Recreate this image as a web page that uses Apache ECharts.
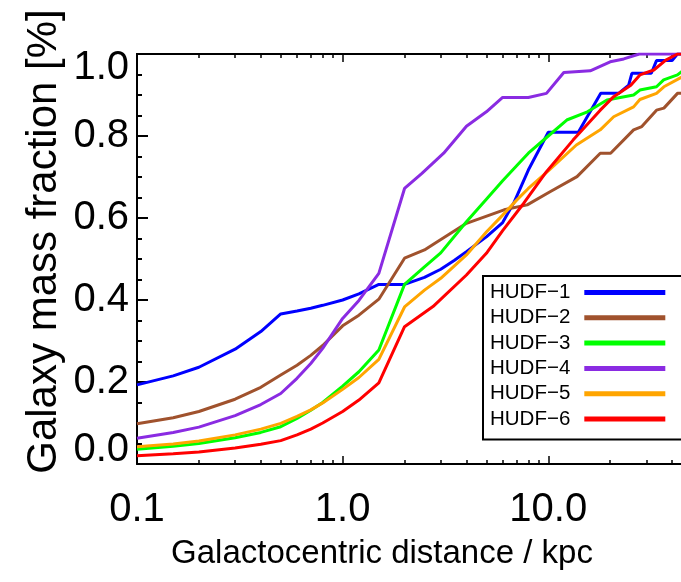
<!DOCTYPE html>
<html><head><meta charset="utf-8">
<script src="https://cdn.jsdelivr.net/npm/echarts@6/dist/echarts.min.js"></script>
<style>html,body{margin:0;padding:0;background:#fff}#chart{width:681px;height:582px}</style>
</head><body><div id="chart"></div>
<script>
// ---- data ----
const seriesNames = ['HUDF\u22121','HUDF\u22122','HUDF\u22123','HUDF\u22124','HUDF\u22125','HUDF\u22126'];
const seriesColors = ['#0000ff','#a0522d','#00ff00','#8a2be2','#ffa500','#ff0000'];

const r1 = [0.1,0.15,0.2,0.3,0.4,0.5,0.6,0.7,0.8,1.0,1.2,1.5,2.0,2.5,3.0,3.5,4.0,5.0,6.0,6.8,8.0,10,14,18,22,24.6,25.5,31.7,33.6,40,42.5,45];
const f1 = [0.193,0.215,0.236,0.280,0.323,0.366,0.373,0.380,0.387,0.400,0.415,0.438,0.438,0.455,0.475,0.497,0.518,0.554,0.589,0.637,0.717,0.809,0.809,0.904,0.904,0.924,0.953,0.953,0.984,0.984,1.0,1.0];

const r2 = [0.1,0.15,0.2,0.3,0.4,0.5,0.6,0.7,0.8,1.0,1.2,1.5,2.0,2.5,2.8,4.0,6.1,7.9,10.2,13.8,17.9,20.1,26,28.5,33.6,36.5,42.5,45];
const f2 = [0.098,0.113,0.128,0.158,0.187,0.217,0.241,0.265,0.289,0.337,0.363,0.402,0.502,0.522,0.538,0.587,0.620,0.632,0.664,0.701,0.758,0.758,0.815,0.823,0.863,0.868,0.904,0.904];

const r3 = [0.1,0.15,0.2,0.3,0.4,0.5,0.6,0.7,0.8,1.0,1.2,1.5,2.0,2.5,3.0,4.0,5.0,6.0,7.0,8.0,10,12.3,15.5,19.3,26,27.9,33.6,36.4,42.5,45];
const f3 = [0.036,0.043,0.050,0.064,0.077,0.091,0.111,0.131,0.150,0.190,0.225,0.278,0.438,0.481,0.515,0.591,0.646,0.691,0.727,0.758,0.800,0.839,0.859,0.888,0.900,0.912,0.920,0.937,0.949,0.959];

const r4 = [0.1,0.15,0.2,0.3,0.4,0.5,0.6,0.7,0.8,1.0,1.2,1.5,2.0,2.43,3.1,4.0,5.0,6.0,8.0,9.8,11.9,16,20,23.3,27.7,45];
const f4 = [0.063,0.077,0.090,0.118,0.145,0.172,0.209,0.245,0.282,0.355,0.399,0.465,0.672,0.709,0.758,0.824,0.859,0.894,0.894,0.904,0.955,0.959,0.981,0.988,1.0,1.0];

const r5 = [0.1,0.15,0.2,0.3,0.4,0.5,0.6,0.7,0.8,1.0,1.2,1.5,2.0,2.5,3.0,4.0,5.0,6.0,7.0,8.0,10,13.7,17.9,20.8,26,27.9,33.6,36.5,45];
const f5 = [0.042,0.049,0.056,0.071,0.085,0.099,0.116,0.132,0.149,0.182,0.211,0.255,0.383,0.424,0.453,0.510,0.566,0.607,0.643,0.672,0.715,0.778,0.815,0.847,0.871,0.889,0.904,0.920,0.945];

const r6 = [0.1,0.15,0.2,0.3,0.4,0.5,0.6,0.7,0.8,1.0,1.2,1.5,2.0,2.75,4.0,5.0,6.0,7.6,9.8,13.2,17.9,20.8,25.2,27.9,32.6,37.3,42.5,45];
const f6 = [0.020,0.025,0.029,0.039,0.048,0.057,0.071,0.085,0.100,0.128,0.156,0.198,0.335,0.384,0.461,0.514,0.569,0.636,0.713,0.790,0.863,0.896,0.924,0.949,0.961,0.985,1.0,1.0];

const xMin = 0.1, xMax = 50;
const xMajorTicks = [0.1, 1, 10];
const xMinorTicks = [0.2,0.3,0.4,0.5,0.6,0.7,0.8,0.9,2,3,4,5,6,7,8,9,20,30,40];
const yMin = 0, yMax = 1.0, yStep = 0.2;
const xTitle = 'Galactocentric distance / kpc';
const yTitle = 'Galaxy mass fraction [%]';

// ---- chart ----
const radii = [r1,r2,r3,r4,r5,r6];
const fracs = [f1,f2,f3,f4,f5,f6];
const lg = Math.log10;
const SANS = '"Liberation Sans", Arial, Helvetica, sans-serif';

const chart = echarts.init(document.getElementById('chart'), null, {renderer: 'canvas'});

const tickOverlay = (pos, vals, len) => ({
  type: 'value', position: pos, min: lg(xMin), max: lg(xMax),
  axisLine: {show: pos === 'top', onZero: false, lineStyle: {color: '#000', width: 2}},
  axisTick: {show: true, inside: true, length: len, customValues: vals.map(lg), lineStyle: {color: '#000', width: 1.5}},
  axisLabel: {show: false}, splitLine: {show: false}
});

const yAxisDef = (pos, labels) => ({
  type: 'value', position: pos, min: yMin, max: yMax, interval: yStep,
  axisLine: {show: true, onZero: false, lineStyle: {color: '#000', width: 2}},
  axisTick: {show: true, inside: true, length: 11, lineStyle: {color: '#000', width: 2}},
  minorTick: {show: true, splitNumber: 4, length: 5, lineStyle: {color: '#000', width: 2}},
  splitLine: {show: false},
  axisLabel: labels ? {
    show: true, color: '#000', fontFamily: SANS, fontSize: 40, margin: 8, lineHeight: 28,
    formatter: v => v.toFixed(1),
    verticalAlignMinLabel: 'bottom', verticalAlignMaxLabel: 'top'
  } : {show: false},
  name: labels ? yTitle : '',
  nameLocation: 'middle', nameGap: 72, nameMoveOverlap: false,
  nameTextStyle: {color: '#000', fontFamily: SANS, fontSize: 42, padding: [0,0,0,35]}
});

chart.setOption({
  animation: false,
  backgroundColor: '#fff',
  grid: {left: 137, top: 54, width: 555, height: 410, containLabel: false, outerBoundsMode: 'none', show: false},
  legend: {
    show: true, left: 483, top: 276, orient: 'vertical', align: 'right',
    data: seriesNames, icon: 'rect', itemWidth: 81, itemHeight: 5, itemGap: 0.3,
    padding: [4, 19, 8, 7], backgroundColor: '#fff', borderColor: '#000', borderWidth: 2, borderRadius: 0,
    selectedMode: false,
    textStyle: {color: '#000', fontFamily: SANS, fontSize: 20.5, lineHeight: 25, width: 75, padding: [0, 9, 0, 0]}
  },
  xAxis: [
    {
      type: 'log', logBase: 10, position: 'bottom', min: xMin, max: xMax,
      axisLine: {show: true, onZero: false, lineStyle: {color: '#000', width: 2}},
      axisTick: {show: true, inside: true, length: 8, lineStyle: {color: '#000', width: 1.5}},
      minorTick: {show: false}, splitLine: {show: false},
      axisLabel: {color: '#000', fontFamily: SANS, fontSize: 40, lineHeight: 40, margin: 26,
        formatter: v => Number(v).toFixed(1), showMaxLabel: false},
      name: xTitle, nameLocation: 'middle', nameGap: 73, nameMoveOverlap: false,
      nameTextStyle: {color: '#000', fontFamily: SANS, fontSize: 33, padding: [0, 65, 0, 0]}
    },
    tickOverlay('bottom', xMinorTicks, 4),
    tickOverlay('top', xMajorTicks, 8),
    tickOverlay('top', xMinorTicks, 4)
  ],
  yAxis: [yAxisDef('left', true), yAxisDef('right', false)],
  series: seriesNames.map((n, k) => ({
    name: n, type: 'line', xAxisIndex: 0, yAxisIndex: 0,
    data: radii[k].map((r, i) => [r, fracs[k][i]]),
    symbol: 'none', smooth: false, clip: true,
    lineStyle: {color: seriesColors[k], width: 3},
    itemStyle: {color: seriesColors[k]},
    z: 2 + k
  }))
});
</script></body></html>
